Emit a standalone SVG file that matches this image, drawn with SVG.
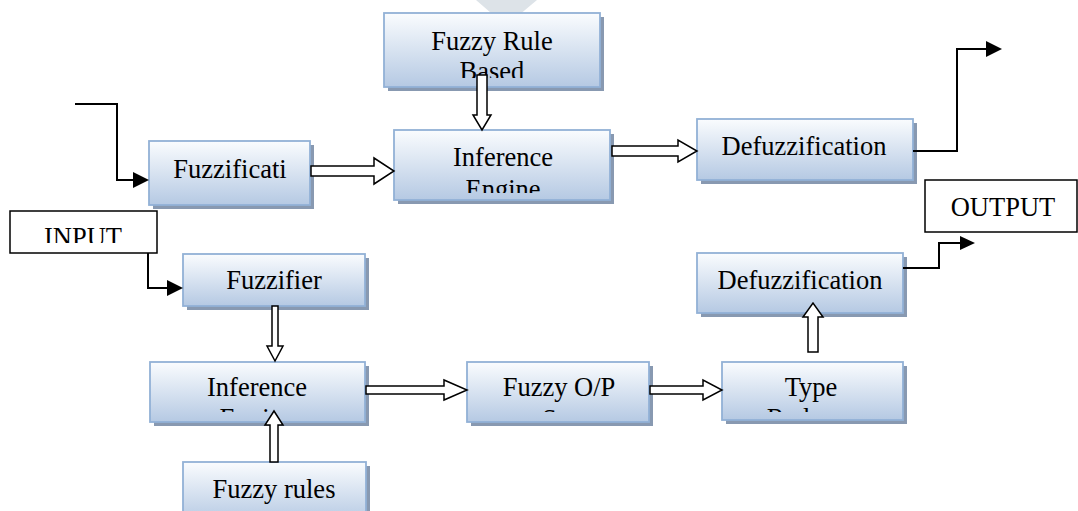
<svg xmlns="http://www.w3.org/2000/svg" width="1078" height="511" viewBox="0 0 1078 511">
<defs>
<linearGradient id="g" x1="0" y1="0" x2="0" y2="1">
<stop offset="0" stop-color="#fafcfe"/>
<stop offset="1" stop-color="#b5c9e3"/>
</linearGradient>
<clipPath id="cFR"><rect x="384" y="13" width="216" height="65"/></clipPath>
<clipPath id="cIT"><rect x="394" y="130" width="216" height="63"/></clipPath>
<clipPath id="cIB"><rect x="150" y="362" width="215" height="50"/></clipPath>
<clipPath id="cFO"><rect x="467" y="362" width="182" height="50"/></clipPath>
<clipPath id="cTR"><rect x="722" y="362" width="181" height="50"/></clipPath>
<clipPath id="cIN"><rect x="10" y="211" width="147" height="32"/></clipPath>
</defs>
<style>
.sh{fill:#8899b1}
.bx{fill:url(#g);stroke:#92b1d6;stroke-width:1.8}
.pl{fill:#ffffff;stroke:#000000;stroke-width:1.5}
text{font-family:"Liberation Serif","Times New Roman",serif;font-size:26.5px;fill:#000000;text-anchor:middle}
.ln{fill:none;stroke:#000000;stroke-width:2}
.hd{fill:#000000}
.ba{fill:#ffffff;stroke:#000000;stroke-width:1.5}
</style>
<rect width="1078" height="511" fill="#ffffff"/>
<polygon points="476,0 537,0 506,26" fill="#dde3e8"/>

<g id="fuzzy-rule-based">
<rect class="sh" x="388" y="17" width="216" height="74"/>
<rect class="bx" x="384" y="13" width="216" height="74"/>
<g clip-path="url(#cFR)"><text x="492" y="50">Fuzzy Rule</text><text x="492" y="80">Based</text></g>
</g>
<g id="fuzzification">
<rect class="sh" x="153" y="145" width="161" height="64"/>
<rect class="bx" x="149" y="141" width="161" height="64"/>
<text x="230" y="178">Fuzzificati</text>
</g>
<g id="inference-engine-top">
<rect class="sh" x="398" y="134" width="216" height="70"/>
<rect class="bx" x="394" y="130" width="216" height="70"/>
<g clip-path="url(#cIT)"><text x="503" y="166">Inference</text><text x="503" y="198">Engine</text></g>
</g>
<g id="defuzzification-top">
<rect class="sh" x="701" y="123" width="216" height="61"/>
<rect class="bx" x="697" y="119" width="216" height="61"/>
<text x="804" y="155">Defuzzification</text>
</g>
<g id="input">
<rect class="pl" x="10" y="211" width="147" height="42"/>
<g clip-path="url(#cIN)"><text x="83" y="246">INPUT</text></g>
</g>
<g id="output">
<rect class="pl" x="925" y="180" width="152" height="52"/>
<text x="1003" y="216">OUTPUT</text>
</g>
<g id="fuzzifier">
<rect class="sh" x="187" y="258" width="182" height="52"/>
<rect class="bx" x="183" y="254" width="182" height="52"/>
<text x="274" y="289">Fuzzifier</text>
</g>
<g id="defuzzification-bottom">
<rect class="sh" x="701" y="257" width="206" height="60"/>
<rect class="bx" x="697" y="253" width="206" height="60"/>
<text x="800" y="289">Defuzzification</text>
</g>
<g id="inference-engine-bottom">
<rect class="sh" x="154" y="366" width="215" height="60"/>
<rect class="bx" x="150" y="362" width="215" height="60"/>
<g clip-path="url(#cIB)"><text x="257" y="396">Inference</text><text x="257" y="427">Engine</text></g>
</g>
<g id="fuzzy-op-set">
<rect class="sh" x="471" y="366" width="182" height="60"/>
<rect class="bx" x="467" y="362" width="182" height="60"/>
<g clip-path="url(#cFO)"><text x="559" y="396">Fuzzy O/P</text><text x="559" y="428">Set</text></g>
</g>
<g id="type-reducer">
<rect class="sh" x="726" y="366" width="181" height="58"/>
<rect class="bx" x="722" y="362" width="181" height="58"/>
<g clip-path="url(#cTR)"><text x="811" y="396">Type</text><text x="811" y="427">Reducer</text></g>
</g>
<g id="fuzzy-rules">
<rect class="sh" x="187" y="466" width="183" height="60"/>
<rect class="bx" x="183" y="462" width="183" height="60"/>
<text x="274" y="498">Fuzzy rules</text>
</g>

<g id="connectors">
<polyline class="ln" points="75,104 117,104 117,180 134,180"/>
<polygon class="hd" points="133,172 149,180 133,188"/>
<polyline class="ln" points="913,151 957,151 957,49 987,49"/>
<polygon class="hd" points="986,41 1002,49 986,57"/>
<polyline class="ln" points="148,253 148,288 168,288"/>
<polygon class="hd" points="167,280 183,288 167,296"/>
<polyline class="ln" points="903,268 939,268 939,243 961,243"/>
<polygon class="hd" points="960,236 975,243 960,250"/>

<path class="ba" d="M311,166 L374,166 L374,158 L394,171 L374,184 L374,176 L311,176 Z"/>
<path class="ba" d="M612,146 L678,146 L678,140 L697,151 L678,162 L678,156 L612,156 Z"/>
<path class="ba" d="M366,386 L444,386 L444,380 L467,390 L444,400 L444,394 L366,394 Z"/>
<path class="ba" d="M650,386 L703,386 L703,380 L722,390 L703,400 L703,394 L650,394 Z"/>

<path class="ba" d="M477,75 L477,115 L473,115 L482,130 L491,115 L487,115 L487,75 Z"/>
<path class="ba" d="M272,306 L272,346 L267,346 L275,361 L283,346 L278,346 L278,306 Z"/>
<path class="ba" d="M270,462 L270,425 L265,425 L274,411 L283,425 L278,425 L278,462 Z"/>
<path class="ba" d="M808,352 L808,317 L803,317 L813,303 L823,317 L818,317 L818,352 Z"/>
</g>
</svg>
